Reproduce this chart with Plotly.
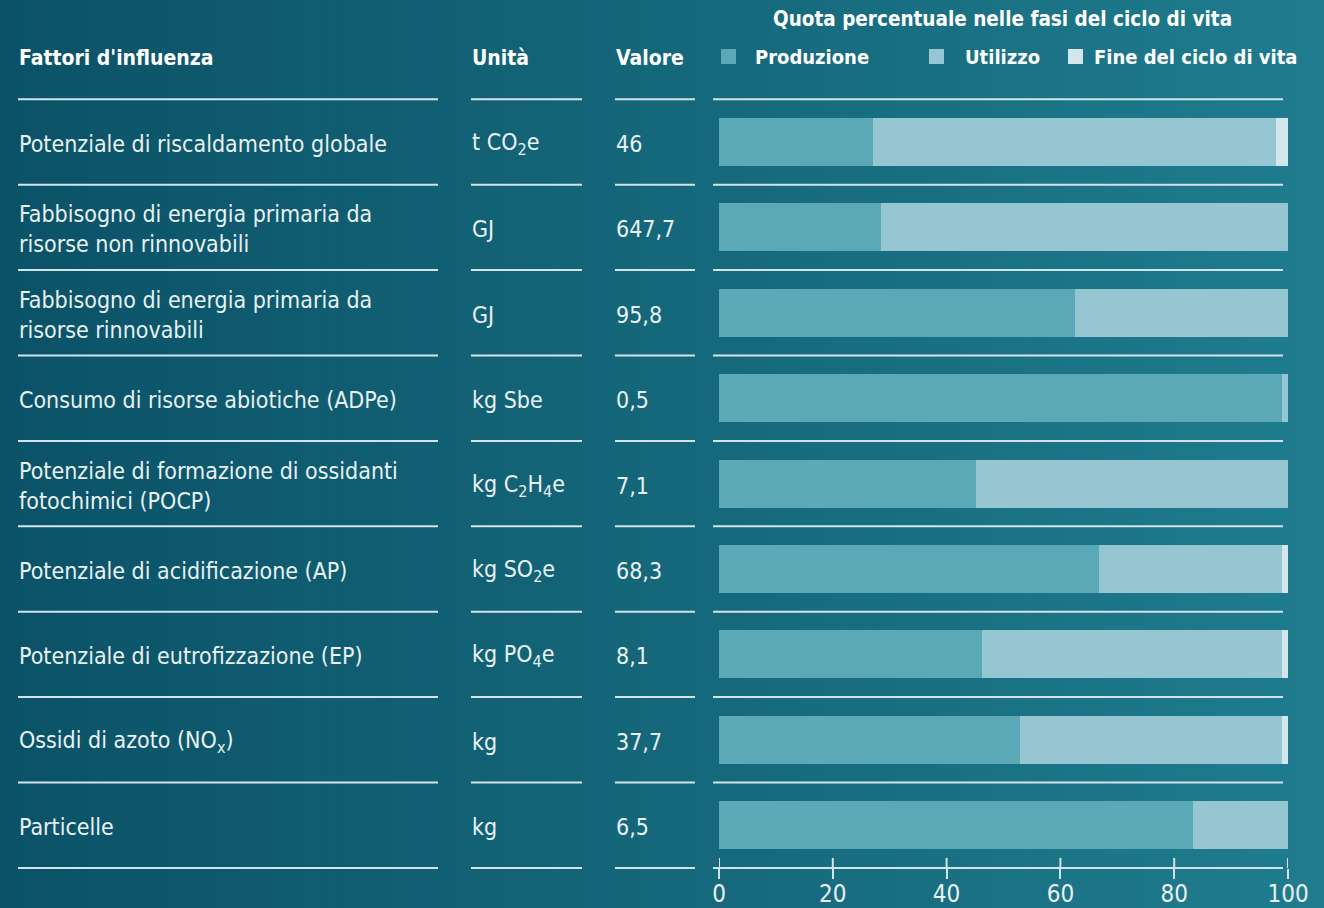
import plotly.graph_objects as go

# ---------------- data ----------------
factors = [
    "Potenziale di riscaldamento globale",
    "Fabbisogno di energia primaria da<br>risorse non rinnovabili",
    "Fabbisogno di energia primaria da<br>risorse rinnovabili",
    "Consumo di risorse abiotiche (ADPe)",
    "Potenziale di formazione di ossidanti<br>fotochimici (POCP)",
    "Potenziale di acidificazione (AP)",
    "Potenziale di eutrofizzazione (EP)",
    "Ossidi di azoto (NO<sub>x</sub>)",
    "Particelle",
]
units = ["t CO<sub>2</sub>e", "GJ", "GJ", "kg Sbe", "kg C<sub>2</sub>H<sub>4</sub>e",
         "kg SO<sub>2</sub>e", "kg PO<sub>4</sub>e", "kg", "kg"]
values = ["46", "647,7", "95,8", "0,5", "7,1", "68,3", "8,1", "37,7", "6,5"]
produzione = [27.1, 28.5, 62.6, 98.9, 45.2, 66.8, 46.2, 52.9, 83.3]
utilizzo = [70.8, 71.5, 37.4, 1.1, 54.8, 32.2, 52.7, 46.0, 16.7]
fine_vita = [2.1, 0.0, 0.0, 0.0, 0.0, 1.0, 1.1, 1.1, 0.0]
series_names = ["Produzione", "Utilizzo", "Fine del ciclo di vita"]
tick_vals = [0, 20, 40, 60, 80, 100]

header_factors = "Fattori d'influenza"
header_unit = "Unità"
header_value = "Valore"
header_quota = "Quota percentuale nelle fasi del ciclo di vita"

# ---------------- style ----------------
W, H = 1324, 908
FONT = "DejaVu Sans Condensed, DejaVu Sans, sans-serif"
TXT = "#e8f1f3"
LINE = "#d3e4e9"
COLORS = ["#5ba8b7", "#96c6d2", "#d2e6eb"]
ROW = 85.4
TOP_CENTER = 142.0


def px(x):
    return x / W


def py(y):
    return 1 - y / H


def body_font(size=23):
    return dict(family=FONT, size=size, color=TXT)


def bold_font(size):
    return dict(family=FONT, size=size, color="#ffffff", weight="bold")


rows = list(range(len(factors)))

fig = go.Figure()
for name, vals, col in zip(series_names, [produzione, utilizzo, fine_vita], COLORS):
    fig.add_trace(go.Bar(
        y=rows, x=vals, orientation="h", name=name, width=0.56,
        marker=dict(color=col, line=dict(width=0)), showlegend=False,
        hoverinfo="x+name",
    ))

shapes = []
# gradient background
N = 132
c0 = (11, 82, 103)
c1 = (31, 124, 142)
for k in range(N):
    t = k / (N - 1)
    c = tuple(round(a + (b - a) * t) for a, b in zip(c0, c1))
    shapes.append(dict(type="rect", xref="paper", yref="paper",
                       x0=k / N, x1=min(1.0, (k + 1) / N + 0.002), y0=0, y1=1,
                       fillcolor="rgb(%d,%d,%d)" % c, line=dict(width=0), layer="below"))

# separators
segments = [(18, 438), (471, 582), (615, 695), (713, 1283)]
for i in range(len(factors) + 1):
    yv = i - 0.5
    for a, b in segments:
        shapes.append(dict(type="line", xref="paper", yref="y",
                           x0=px(a), x1=px(b), y0=yv, y1=yv,
                           line=dict(color=LINE, width=2), layer="above"))

# upper halves of crossing ticks
axis_pos = py(TOP_CENTER + ROW * (len(factors) - 0.5))
for tv in tick_vals:
    shapes.append(dict(type="line", xref="x", yref="paper",
                       x0=tv, x1=tv, y0=axis_pos, y1=axis_pos + 10 / H,
                       line=dict(color=LINE, width=2)))

# legend squares
legend_sq_x = [721, 929, 1068]
for xx, col in zip(legend_sq_x, COLORS):
    shapes.append(dict(type="rect", xref="paper", yref="paper",
                       x0=px(xx), x1=px(xx + 15), y0=py(64), y1=py(49),
                       fillcolor=col, line=dict(width=0)))

annotations = []
# row texts
for i in rows:
    for xx, txt in [(18, factors[i]), (471, units[i]), (615, values[i])]:
        annotations.append(dict(x=px(xx), y=i, xref="paper", yref="y", text=txt,
                                xanchor="left", yanchor="middle", align="left", showarrow=False,
                                borderpad=0, yshift=-2, font=body_font()))

for xx, t in [(18, header_factors), (471, header_unit), (615, header_value)]:
    annotations.append(dict(x=px(xx), y=py(58), xref="paper", yref="paper", text="<b>%s</b>" % t,
                            xanchor="left", yanchor="middle", showarrow=False, borderpad=0,
                            font=bold_font(21)))
annotations.append(dict(x=px(1002), y=py(19), xref="paper", yref="paper", text="<b>%s</b>" % header_quota,
                        xanchor="center", yanchor="middle", showarrow=False, borderpad=0,
                        font=bold_font(20.5)))
legend_txt_x = [754, 964, 1093]
for xx, t in zip(legend_txt_x, series_names):
    annotations.append(dict(x=px(xx), y=py(57), xref="paper", yref="paper", text="<b>%s</b>" % t,
                            xanchor="left", yanchor="middle", showarrow=False, borderpad=0,
                            font=bold_font(20)))

# axis base line
shapes.append(dict(type="line", xref="paper", yref="y", x0=px(713), x1=px(1283),
                   y0=len(factors) - 0.5, y1=len(factors) - 0.5,
                   line=dict(color=LINE, width=2)))

fig.update_layout(
    template="none",
    width=W, height=H, autosize=False,
    margin=dict(l=0, r=0, t=0, b=0, pad=0, autoexpand=False),
    paper_bgcolor="#135e73", plot_bgcolor="rgba(0,0,0,0)",
    barmode="stack", bargap=0,
    shapes=shapes, annotations=annotations,
    xaxis=dict(domain=[px(719), px(1288)], range=[0, 100], anchor="free", position=axis_pos,
               tickvals=tick_vals, ticks="outside", ticklen=10, tickwidth=2, tickcolor=LINE,
               ticklabelstandoff=-6,
               showline=False, showgrid=False, zeroline=False, fixedrange=True, automargin=False,
               tickfont=body_font(24)),
    yaxis=dict(domain=[0, 1], range=[(H - TOP_CENTER) / ROW, -TOP_CENTER / ROW],
               showticklabels=False, showgrid=False, zeroline=False, ticks="",
               showline=False, fixedrange=True, automargin=False),
    showlegend=False,
)

fig.write_html(
    "out.html",
    config={"displayModeBar": False, "responsive": False},
    post_script="document.body.style.margin='0';document.body.style.padding='0';"
                "document.body.style.overflow='hidden';",
)
